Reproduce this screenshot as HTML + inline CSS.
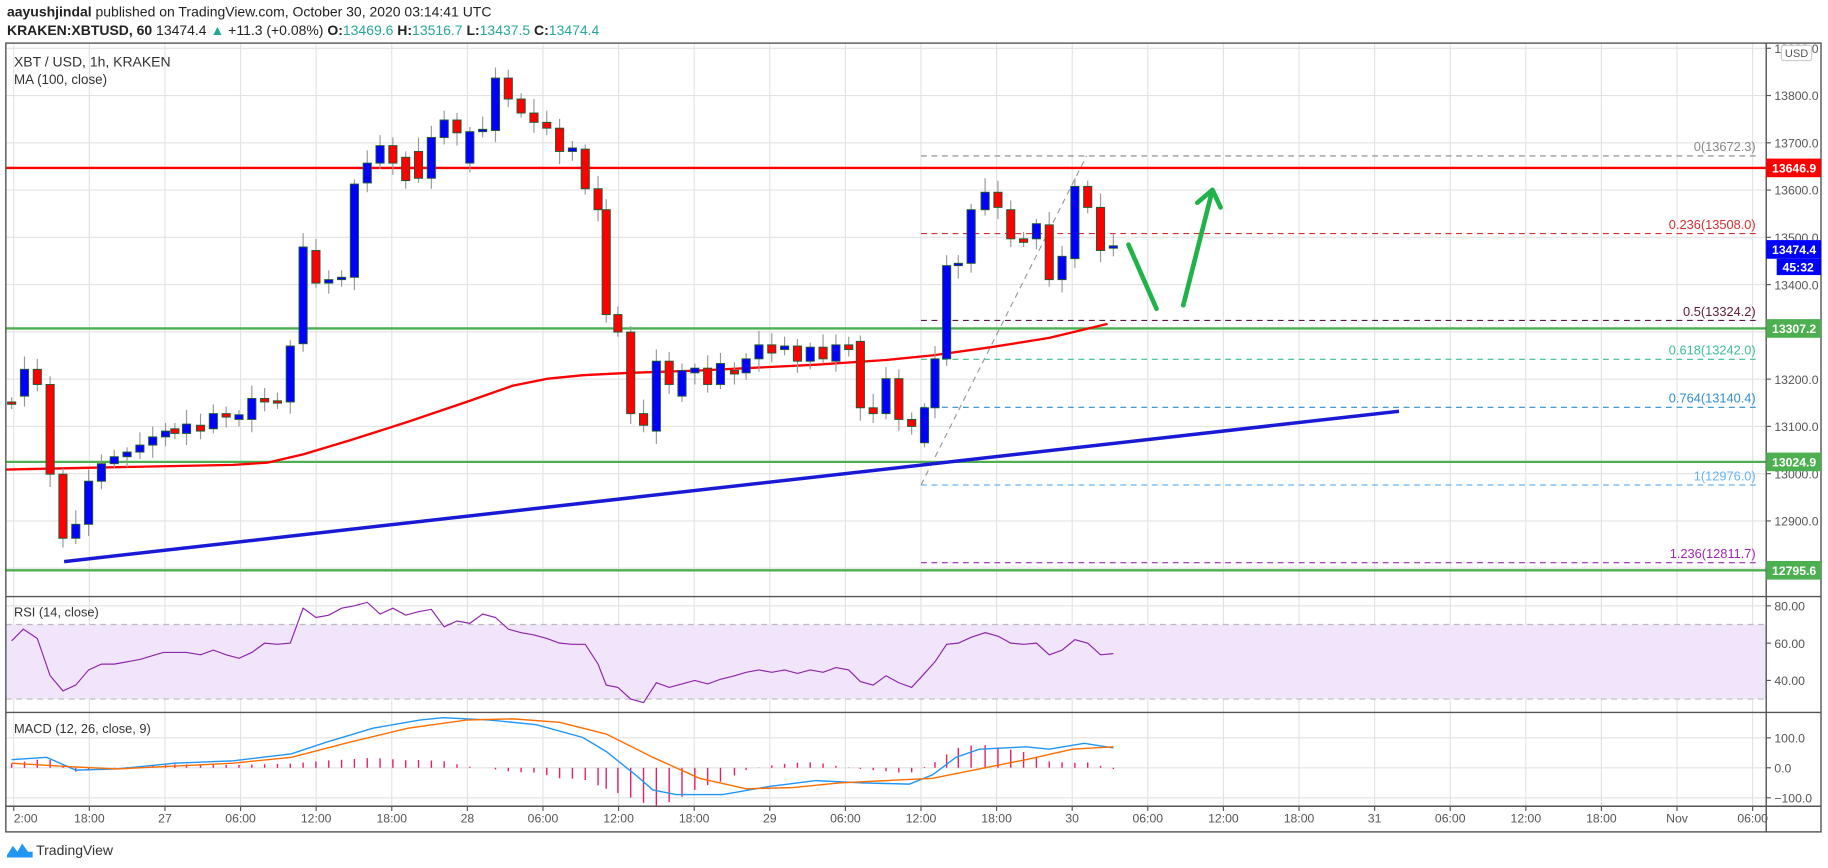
<!DOCTYPE html>
<html><head><meta charset="utf-8"><style>
html,body{margin:0;padding:0;background:#fff;}
svg{display:block;font-family:"Liberation Sans",sans-serif;}
</style></head><body>
<svg id="s" width="1828" height="868" viewBox="0 0 1568 745" preserveAspectRatio="none" xmlns="http://www.w3.org/2000/svg">
<rect width="1568" height="745" fill="#fff"/>
<text x="6" y="14" font-size="12" fill="#222"><tspan font-weight="bold">aayushjindal</tspan> published on TradingView.com, October 30, 2020 03:14:41 UTC</text>
<text x="6" y="30" font-size="12" fill="#222"><tspan font-weight="bold">KRAKEN:XBTUSD, 60</tspan> 13474.4 <tspan fill="#26a69a">▲</tspan> +11.3 (+0.08%) <tspan font-weight="bold">O:</tspan><tspan fill="#26a69a">13469.6</tspan> <tspan font-weight="bold">H:</tspan><tspan fill="#26a69a">13516.7</tspan> <tspan font-weight="bold">L:</tspan><tspan fill="#26a69a">13437.5</tspan> <tspan font-weight="bold">C:</tspan><tspan fill="#26a69a">13474.4</tspan></text>
<g id="grid"></g>
<rect x="5" y="536" width="1510" height="64" fill="#f1e5fb"/>
<line x1="5" y1="536" x2="1515" y2="536" stroke="#bbb" stroke-dasharray="5,4"/>
<line x1="5" y1="600" x2="1515" y2="600" stroke="#bbb" stroke-dasharray="5,4"/>
<g id="fib"></g>
<g id="main"></g>
<g id="frame" fill="none" stroke="#555" stroke-width="1.2">
<rect x="5" y="37" width="1557" height="677"/>
<line x1="1515" y1="37" x2="1515" y2="714"/>
<line x1="5" y1="512" x2="1562" y2="512"/>
<line x1="5" y1="611.5" x2="1562" y2="611.5"/>
<line x1="5" y1="692" x2="1562" y2="692"/>
</g>
<text x="12" y="57" font-size="12" fill="#333">XBT / USD, 1h, KRAKEN</text>
<text x="12" y="72" font-size="11.5" fill="#333">MA (100, close)</text>
<text x="12" y="529" font-size="11" fill="#333">RSI (14, close)</text>
<text x="12" y="629" font-size="11" fill="#333">MACD (12, 26, close, 9)</text>
<g id="axis"></g>
<g transform="translate(6,722)"><path d="M0 12 L5 4 L9 9 L13 2 L18 9 L22 9 L22 14 L0 14Z" fill="#2196f3"/><text x="25" y="12" font-size="12" fill="#333">TradingView</text></g>
</svg>
<script>
const NS="http://www.w3.org/2000/svg";
function el(p,t,a,txt){const e=document.createElementNS(NS,t);for(const k in a)e.setAttribute(k,a[k]);if(txt!=null)e.textContent=txt;document.getElementById(p).appendChild(e);return e;}
const py=p=>82+(13800-p)/2.465;
const R=v=>520+(80-v)*1.6;
const M=v=>659-v*0.2575;
for(let p=12800;p<=13900;p+=100){const y=py(p);if(y>40&&y<510)el('grid','line',{x1:5,x2:1515,y1:y,y2:y,stroke:'#e3e3e3'});}
[R(80),R(60),R(40)].forEach(y=>el('grid','line',{x1:5,x2:1515,y1:y,y2:y,stroke:'#e3e3e3'}));
[M(100),M(0),M(-100)].forEach(y=>el('grid','line',{x1:5,x2:1515,y1:y,y2:y,stroke:'#e3e3e3'}));
const labs=["2:00","18:00","27","06:00","12:00","18:00","28","06:00","12:00","18:00","29","06:00","12:00","18:00","30","06:00","12:00","18:00","31","06:00","12:00","18:00","Nov","06:00"];
labs.forEach((l,i)=>{const x=141.5+(i-2)*64.85;if(x>5&&x<1515)el('grid','line',{x1:x,x2:x,y1:37,y2:692,stroke:'#e3e3e3'});
 el('axis','line',{x1:x,x2:x,y1:692,y2:696,stroke:'#555'});
 el('axis','text',{x:Math.max(x,5),y:706,'font-size':10.5,fill:'#555','text-anchor':i==0?'start':'middle'},l);});
for(let p=12900;p<=13900;p+=100){const y=py(p);el('axis','line',{x1:1515,x2:1519,y1:y,y2:y,stroke:'#555'});el('axis','text',{x:1522,y:y+4,'font-size':10.5,fill:'#555'},p.toFixed(1));}
el('axis','rect',{x:1528,y:39,width:26,height:13,rx:2,fill:'#fff',stroke:'#ccc'});el('axis','text',{x:1541,y:49,'font-size':9.5,fill:'#555','text-anchor':'middle'},'USD');
[[80,'80.00'],[60,'60.00'],[40,'40.00']].forEach(([v,t])=>{el('axis','line',{x1:1515,x2:1519,y1:R(v),y2:R(v),stroke:'#555'});el('axis','text',{x:1522,y:R(v)+4,'font-size':10.5,fill:'#555'},t);});
[[100,'100.0'],[0,'0.0'],[-100,'\u2212100.0']].forEach(([v,t])=>{el('axis','line',{x1:1515,x2:1519,y1:M(v),y2:M(v),stroke:'#555'});el('axis','text',{x:1522,y:M(v)+4,'font-size':10.5,fill:'#555'},t);});
function badge(p,c,t){const y=py(p);el('axis','rect',{x:1515,y:y-8,width:47,height:16,fill:c});el('axis','text',{x:1520,y:y+4,'font-size':10.5,'font-weight':'bold',fill:'#fff'},t);}
const fibs=[[13672.3,'#888','0(13672.3)'],[13508,'#d32f2f','0.236(13508.0)'],[13324.2,'#5d1a3a','0.5(13324.2)'],[13242,'#3cbf8f','0.618(13242.0)'],[13140.4,'#2f8ed0','0.764(13140.4)'],[12976,'#64b5f6','1(12976.0)'],[12811.7,'#9c27b0','1.236(12811.7)']];
fibs.forEach(([p,c,t])=>{const y=py(p);el('fib','line',{x1:790,x2:1510,y1:y,y2:y,stroke:c,'stroke-dasharray':'5,4'});el('fib','text',{x:1506,y:y-4,'font-size':11,fill:c,'text-anchor':'end'},t);});
el('fib','line',{x1:790,y1:py(12976),x2:932,y2:py(13672.3),stroke:'#999','stroke-dasharray':'5,4'});
el('main','line',{x1:5,x2:1515,y1:py(13646.9),y2:py(13646.9),stroke:'#f00','stroke-width':2});
[13307.2,13024.9,12795.6].forEach(p=>el('main','line',{x1:5,x2:1515,y1:py(p),y2:py(p),stroke:'#4caf50','stroke-width':2}));
el('main','polyline',{points:"5,403 100,401 200,399 230,397 260,390 300,378 350,362 400,345 440,331 470,325 500,322 540,320 600,318 700,313 760,309 800,305 850,298 900,290 950,278",fill:'none',stroke:'#f00','stroke-width':2,'stroke-linejoin':'round'});
el('main','line',{x1:55,y1:482,x2:1200,y2:353,stroke:'#1a1ad6','stroke-width':3});
const C=[[10,345,347],[21,340,317],[32,317,330],[43,330,407],[54,407,462],[65,462,450],[76,450,413],[87,413,398],[98,398,392],[109,392,388],[120,388,382],[131,382,375],[142,375,370],[150,368,372],[160,372,364],[172,365,370],[183,368,355],[194,355,358],[205,360,356],[216,360,342],[227,342,345],[238,344,346],[249,345,297],[260,295,212],[271,215,243],[282,243,240],[293,240,238],[304,238,158],[315,157,140],[326,140,125],[337,125,140],[348,135,155],[359,130,153],[370,153,118],[381,118,103],[392,103,114],[403,140,113],[414,113,111],[425,112,67],[436,67,85],[447,85,97],[458,97,105],[469,105,110],[480,110,130],[491,130,127],[502,128,162],[513,162,180],[520,180,270],[530,270,285],[541,285,355],[552,355,365],[563,370,310],[574,310,330],[585,340,318],[596,320,316],[607,316,330],[618,330,312],[630,318,321],[640,320,308],[651,308,296],[662,296,303],[673,300,297],[684,297,310],[695,310,298],[706,298,308],[717,310,296],[728,296,300],[738,293,350],[749,350,355],[760,355,325],[771,325,360],[782,360,366],[793,380,350],[802,350,308],[812,308,228],[822,228,226],[833,226,180],[845,180,165],[856,165,178],[867,180,205],[878,205,208],[889,205,192],[900,193,240],[911,240,220],[922,222,160],[933,160,178],[944,178,215],[955,213,211]];
C.forEach(([x,o,c],i)=>{const t=Math.min(o,c),b=Math.max(o,c);const wt=t-4-(i*7%9),wb=b+4+(i*5%8);
 el('main','line',{x1:x,x2:x,y1:wt,y2:wb,stroke:'#999'});
 el('main','rect',{x:x-3.5,y:t,width:7,height:Math.max(b-t,1.5),fill:c<o?'#0000ff':'#ff0000',stroke:'#1e5a32','stroke-width':0.8});});
el('main','polyline',{points:"968,210 992,265",fill:'none',stroke:'#22b24c','stroke-width':4,'stroke-linecap':'round'});
el('main','polyline',{points:"1015,262 1040,163",fill:'none',stroke:'#22b24c','stroke-width':4,'stroke-linecap':'round'});
el('main','polyline',{points:"1027,174 1040,163 1047,178",fill:'none',stroke:'#22b24c','stroke-width':4,'stroke-linecap':'round','stroke-linejoin':'round'});
el('main','polyline',{points:"10,550 20,540 32,548 43,580 54,593 65,588 76,575 87,570 98,570 120,566 140,560 160,560 172,562 183,558 194,562 205,565 216,560 227,552 238,553 249,552 260,522 271,530 282,528 293,522 304,520 315,517 326,527 337,522 348,528 359,525 370,523 381,538 392,533 403,535 414,527 425,530 436,540 447,543 458,545 469,548 480,552 491,553 502,553 513,570 520,588 530,590 541,600 552,603 563,586 574,590 585,587 596,584 607,587 618,583 630,580 640,577 651,575 662,577 673,575 684,578 695,575 706,577 717,573 728,575 738,585 749,588 760,580 771,586 782,590 793,578 802,568 812,553 822,552 833,547 845,543 856,546 867,552 878,553 889,552 900,562 911,558 922,549 933,552 944,562 955,561",fill:'none',stroke:'#8e24aa','stroke-width':1});
const blue=[[10,652],[40,650],[65,661],[100,660],[150,655],[200,653],[250,647],[280,637],[320,625],[360,618],[380,616],[420,618],[460,622],[500,633],[520,645],[545,665],[560,678],[580,682],[620,682],[660,675],[700,670],[740,672],[780,673],[800,665],[820,650],[840,643],[880,641],[900,643],[930,638],[955,642]];
const orng=[[10,655],[60,658],[100,660],[200,655],[250,650],[300,637],[350,625],[400,618],[440,617],[480,620],[520,630],[560,650],[600,668],[640,677],[680,676],[720,672],[760,670],[800,668],[840,660],[880,652],[920,643],[955,641]];
function interp(a,x){for(let i=0;i<a.length-1;i++){if(x>=a[i][0]&&x<=a[i+1][0]){const t=(x-a[i][0])/(a[i+1][0]-a[i][0]);return a[i][1]+t*(a[i+1][1]-a[i][1]);}}return a[a.length-1][1];}
C.forEach(([x])=>{const d=(interp(orng,x)-interp(blue,x))*1.2;el('main','line',{x1:x,x2:x,y1:659,y2:659-d,stroke:'#e91e63','stroke-width':1.2});});
el('main','polyline',{points:blue.map(p=>p.join(',')).join(' '),fill:'none',stroke:'#2196f3','stroke-width':1.2});
el('main','polyline',{points:orng.map(p=>p.join(',')).join(' '),fill:'none',stroke:'#ff6d00','stroke-width':1.2});
badge(13646.9,'#f00','13646.9');
badge(13307.2,'#4caf50','13307.2');
badge(13024.9,'#4caf50','13024.9');
badge(12795.6,'#4caf50','12795.6');
badge(13474.4,'#0000ff','13474.4');
el('axis','rect',{x:1524,y:py(13474.4)+8,width:38,height:14,fill:'#0000ff'});
el('axis','text',{x:1529,y:py(13474.4)+19,'font-size':10.5,'font-weight':'bold',fill:'#fff'},'45:32');
</script>
</body></html>
